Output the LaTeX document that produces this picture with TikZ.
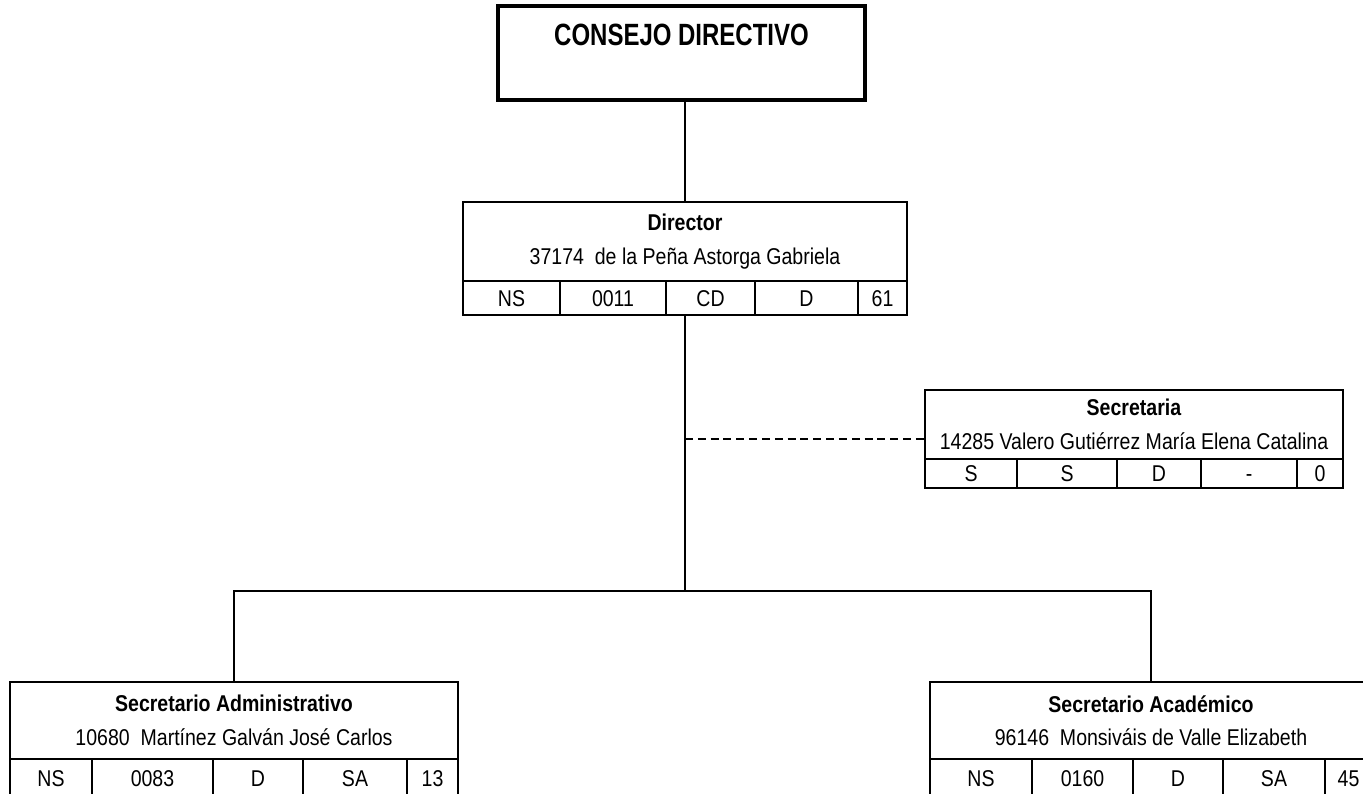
\documentclass[tikz,border=0pt]{standalone}
\usepackage{fontspec}
\setmainfont{Liberation Sans}[FakeStretch=0.855]
\newfontfamily\consejofont{Liberation Sans}[FakeStretch=0.78]
\usepackage{tikz}
\usetikzlibrary{positioning, calc}

\begin{document}
\begin{tikzpicture}[
    x=0.2mm, y=-0.2mm,
    font=\fontsize{13}{19}\selectfont,
    box_common/.style={draw=black, line width=1.2pt, rectangle, inner sep=0pt, outer sep=0pt, align=center},
    box_top/.style={box_common, anchor=north west},
    box_consejo/.style={box_common, line width=2.3pt, anchor=north west, minimum width=73.4mm, minimum height=18.8mm},
    cell_big/.style={box_common, minimum height=6.8mm, text height=9.3pt, text depth=0pt},
    cell_small/.style={box_common, minimum height=5.8mm, text height=9.3pt, text depth=0pt},
    link/.style={line width=1pt, draw=black},
    link_dashed/.style={link, dash pattern=on 4.5pt off 2.8pt}
]
\useasboundingbox (0,0) rectangle (1363,794);
\clip (0,0) rectangle (1363,794);

% Consejo
\node[box_consejo] (consejo) at (498,6) {};
\node[anchor=base, font=\consejofont\fontsize{17.5}{19}\selectfont\bfseries] (consejotxt) at ([yshift=-8mm]consejo.north) {CONSEJO DIRECTIVO};

% Director
\node[box_top, minimum width=88.8mm, minimum height=15.8mm] (dir) at (463,202) {\textbf{Director}\\37174~ de la Peña Astorga Gabriela};
\node[cell_big, minimum width=19.4mm, anchor=north west] (d1) at (dir.south west) {NS};
\node[cell_big, minimum width=21.2mm, right=0pt of d1] (d2) {0011};
\node[cell_big, minimum width=17.8mm, right=0pt of d2] (d3) {CD};
\node[cell_big, minimum width=20.6mm, right=0pt of d3] (d4) {D};
\node[cell_big, minimum width=9.8mm, right=0pt of d4] (d5) {61};

% Secretaria
\node[box_top, minimum width=83.6mm, minimum height=13.8mm] (sec) at (925,390) {\textbf{Secretaria}\\14285 Valero Gutiérrez María Elena Catalina};
\node[cell_small, minimum width=18.4mm, anchor=north west] (s1) at (sec.south west) {S};
\node[cell_small, minimum width=20mm, right=0pt of s1] (s2) {S};
\node[cell_small, minimum width=16.8mm, right=0pt of s2] (s3) {D};
\node[cell_small, minimum width=19.2mm, right=0pt of s3] (s4) {-};
\node[cell_small, minimum width=9.2mm, right=0pt of s4] (s5) {0};

% Secretario Administrativo
\node[box_top, minimum width=89.6mm, minimum height=15.4mm] (sadmin) at (10,682) {\textbf{Secretario Administrativo}\\10680~ Martínez Galván José Carlos};
\node[cell_big, minimum width=16.4mm, anchor=north west, minimum height=7.6mm] (a1) at (sadmin.south west) {NS};
\node[cell_big, minimum width=24.2mm, minimum height=7.6mm, right=0pt of a1] (a2) {0083};
\node[cell_big, minimum width=18mm, minimum height=7.6mm, right=0pt of a2] (a3) {D};
\node[cell_big, minimum width=20.8mm, minimum height=7.6mm, right=0pt of a3] (a4) {SA};
\node[cell_big, minimum width=10.2mm, minimum height=7.6mm, right=0pt of a4] (a5) {13};

% Secretario Academico
\node[box_top, minimum width=88.4mm, minimum height=15.4mm] (sacad) at (930,682) {\textbf{Secretario Académico}\\96146~ Monsiváis de Valle Elizabeth};
\node[cell_big, minimum width=20.4mm, anchor=north west, minimum height=7.6mm] (c1) at (sacad.south west) {NS};
\node[cell_big, minimum width=20.2mm, minimum height=7.6mm, right=0pt of c1] (c2) {0160};
\node[cell_big, minimum width=18mm, minimum height=7.6mm, right=0pt of c2] (c3) {D};
\node[cell_big, minimum width=20.4mm, minimum height=7.6mm, right=0pt of c3] (c4) {SA};
\node[cell_big, minimum width=9.4mm, minimum height=7.6mm, right=0pt of c4] (c5) {45};

% Links
\coordinate (junc) at (685,591);
\draw[link] (consejo.south -| dir.north) -- (dir.north);
\draw[link] (dir.south |- d3.south) -- (junc);
\draw[link] (sadmin.north) |- (junc) -| (sacad.north);

% Staff link
\coordinate (secin) at ($(sec.north west)!0.5!(s1.south west)$);
\draw[link_dashed] (secin -| junc) -- (secin);

\end{tikzpicture}
\end{document}
